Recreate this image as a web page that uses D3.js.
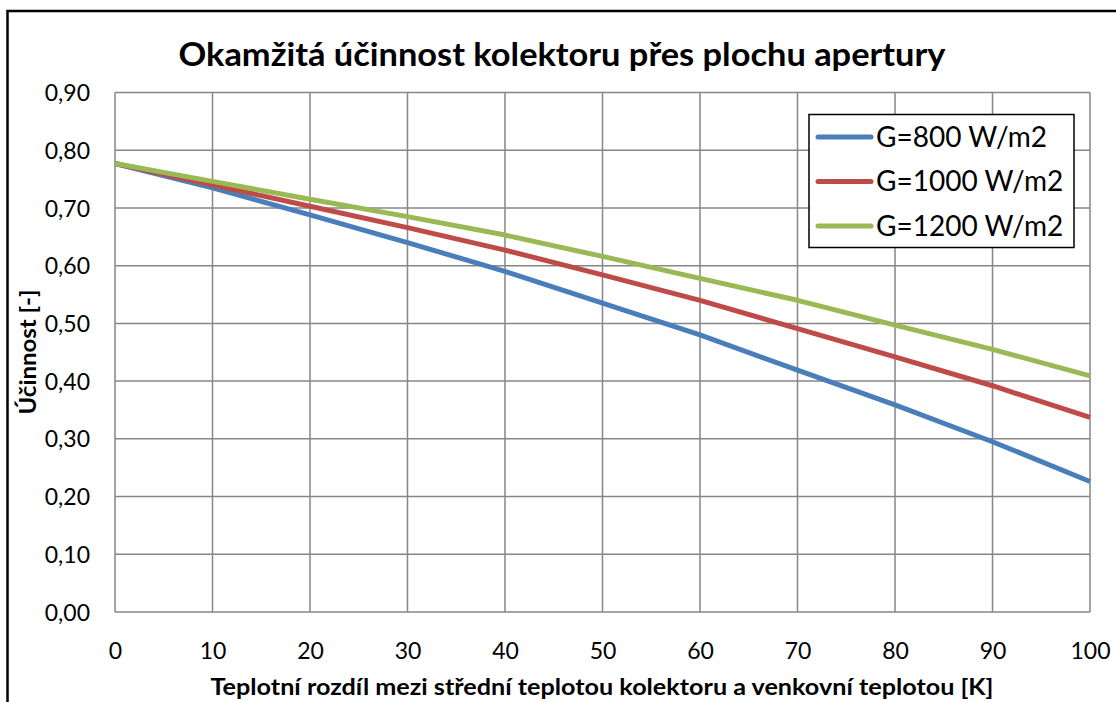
<!DOCTYPE html>
<html>
<head>
<meta charset="utf-8">
<script src="https://cdn.jsdelivr.net/npm/d3@7"></script>
<style>
  body { margin: 0; background: #fff; }
  text { font-family: Lato, "Open Sans", sans-serif; fill: #000; }
</style>
</head>
<body>
<svg width="1116" height="702"></svg>
<script>
const deltaT = [0, 10, 20, 30, 40, 50, 60, 70, 80, 90, 100];
const eff800 = [0.777, 0.735, 0.688, 0.640, 0.590, 0.535, 0.480, 0.419, 0.359, 0.295, 0.226];
const eff1000 = [0.777, 0.740, 0.703, 0.666, 0.627, 0.584, 0.540, 0.491, 0.442, 0.392, 0.337];
const eff1200 = [0.777, 0.746, 0.715, 0.685, 0.653, 0.616, 0.578, 0.540, 0.497, 0.455, 0.409];
const seriesNames = ['G=800 W/m2', 'G=1000 W/m2', 'G=1200 W/m2'];
const colors = ['#4A7EBB', '#BE4B48', '#98B954'];
const yTicks = [0, 0.1, 0.2, 0.3, 0.4, 0.5, 0.6, 0.7, 0.8, 0.9];
const xTicks = [0, 10, 20, 30, 40, 50, 60, 70, 80, 90, 100];

const svg = d3.select('svg');

// outer chart frame (runs off the right and bottom of the picture)
svg.append('rect')
    .attr('x', 7.5).attr('y', 11)
    .attr('width', 1130).attr('height', 720)
    .attr('fill', '#fff')
    .attr('stroke', '#000')
    .attr('stroke-width', 2.5);

const x = d3.scaleLinear().domain([0, 100]).range([115, 1090]);
const y = d3.scaleLinear().domain([0, 0.9]).range([612, 92.5]);

const fmt = d => d3.format('.2f')(d).replace('.', ',');

// grid
const grid = svg.append('g');
grid.selectAll('.hg').data(yTicks).join('line')
    .attr('x1', x(0)).attr('x2', x(100))
    .attr('y1', d => y(d)).attr('y2', d => y(d))
    .attr('stroke', '#868686').attr('stroke-width', 1.5);
grid.selectAll('.vg').data(xTicks).join('line')
    .attr('y1', y(0)).attr('y2', y(0.9))
    .attr('x1', d => x(d)).attr('x2', d => x(d))
    .attr('stroke', '#868686').attr('stroke-width', 1.5);

// axes (labels only, Excel style)
const yAxis = svg.append('g')
    .attr('transform', `translate(${x(0)},0)`)
    .call(d3.axisLeft(y).tickValues(yTicks).tickFormat(fmt).tickSize(0).tickPadding(25));
yAxis.select('.domain').remove();
yAxis.selectAll('text').attr('font-size', 23).attr('font-family', 'Lato').attr('dy', '0.35em');

const xAxis = svg.append('g')
    .attr('transform', `translate(0,${y(0)})`)
    .call(d3.axisBottom(x).tickValues(xTicks).tickSize(0).tickPadding(31));
xAxis.select('.domain').remove();
xAxis.selectAll('text').attr('font-size', 23).attr('font-family', 'Lato');

// lines
const line = d3.line()
    .x((d, i) => x(deltaT[i]))
    .y(d => y(d));

[eff800, eff1000, eff1200].forEach((s, i) => {
  svg.append('path')
      .datum(s)
      .attr('d', line)
      .attr('fill', 'none')
      .attr('stroke', colors[i])
      .attr('stroke-width', 5)
      .attr('stroke-linejoin', 'round');
});

// title
svg.append('text')
    .attr('x', 562).attr('y', 66)
    .attr('text-anchor', 'middle')
    .attr('font-size', 32)
    .attr('font-weight', 'bold')
    .attr('textLength', 767)
    .attr('lengthAdjust', 'spacingAndGlyphs')
    .text('Okamžitá účinnost kolektoru přes plochu apertury');

// axis titles
svg.append('text')
    .attr('x', 602).attr('y', 695)
    .attr('text-anchor', 'middle')
    .attr('font-size', 22)
    .attr('font-weight', 'bold')
    .attr('textLength', 783)
    .attr('lengthAdjust', 'spacingAndGlyphs')
    .text('Teplotní rozdíl mezi střední teplotou kolektoru a venkovní teplotou [K]');

svg.append('text')
    .attr('transform', 'translate(36,352) rotate(-90)')
    .attr('text-anchor', 'middle')
    .attr('font-size', 22)
    .attr('font-weight', 'bold')
    .attr('textLength', 125)
    .attr('lengthAdjust', 'spacingAndGlyphs')
    .text('Účinnost [-]');

// legend
const legend = svg.append('g');
legend.append('rect')
    .attr('x', 809).attr('y', 114.5)
    .attr('width', 265).attr('height', 133)
    .attr('fill', '#fff')
    .attr('stroke', '#000')
    .attr('stroke-width', 1.5);

seriesNames.forEach((name, i) => {
  const cy = 137 + i * 44.5;
  legend.append('line')
      .attr('x1', 818).attr('x2', 871)
      .attr('y1', cy).attr('y2', cy)
      .attr('stroke', colors[i])
      .attr('stroke-width', 5)
      .attr('stroke-linecap', 'round');
  legend.append('text')
      .attr('x', 876).attr('y', cy)
      .attr('dy', '0.35em')
      .attr('font-size', 28)
      .text(name);
});
</script>
</body>
</html>
